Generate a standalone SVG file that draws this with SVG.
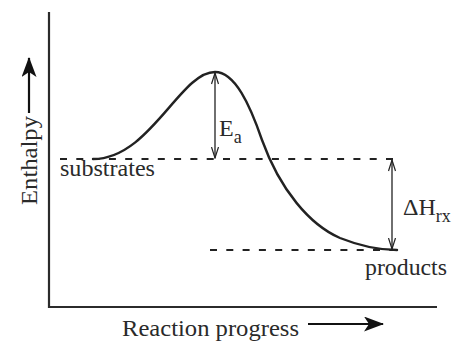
<svg xmlns="http://www.w3.org/2000/svg" width="454" height="341" viewBox="0 0 454 341">
  <defs>
    <style>
      .ax { stroke: #2b2b2b; stroke-width: 2.2; fill: none; }
      .dash { stroke: #222; stroke-width: 2.2; stroke-dasharray: 7 9.3; fill: none; }
      .curve { stroke: #222; stroke-width: 2.4; fill: none; stroke-linecap: round; }
      .dim { stroke: #222; stroke-width: 1.3; fill: none; marker-start: url(#tip); marker-end: url(#tip); }
      .t { font-family: 'Liberation Serif', 'DejaVu Serif', serif; font-size: 24px; fill: #2a2a2a; }
      .sub { font-size: 18px; }
      .big { stroke: #111; stroke-width: 2.2; fill: none; }
    </style>
    <marker id="tip" viewBox="0 0 12 8" refX="11.5" refY="4" markerWidth="12" markerHeight="8" markerUnits="userSpaceOnUse" orient="auto-start-reverse">
      <path d="M0.5,0.5 L11.5,4 L0.5,7.5" fill="none" stroke="#222" stroke-width="1.2"/>
    </marker>
    <marker id="head" viewBox="0 0 20 15" refX="19" refY="7.5" markerWidth="20" markerHeight="15" markerUnits="userSpaceOnUse" orient="auto">
      <path d="M0,0 L20,7.5 L0,15 L5,7.5 Z" fill="#111"/>
    </marker>
  </defs>

  <g id="axes">
    <path class="ax" d="M49,12 L49,307 L437,307"/>
  </g>

  <g id="connectors">
    <path class="dash" d="M60,159 L396,159"/>
    <path class="dash" d="M210,250 L400,250"/>
    <path class="curve" d="M93,159 C150,159 180,72 215,72 C235,72 250,105 262,140 C280,190 310,225 340,238 C360,246 380,250 397,250"/>
    <path class="dim" d="M215,73 L215,158"/>
    <path class="dim" d="M392,160 L392,249"/>
    <path class="big" d="M29,113 L29,58" marker-end="url(#head)"/>
    <path class="big" d="M308,324 L383,324" marker-end="url(#head)"/>
  </g>

  <g id="substrates">
    <text class="t" x="60" y="176" textLength="95" lengthAdjust="spacingAndGlyphs">substrates</text>
  </g>
  <g id="products">
    <text class="t" x="365" y="275" textLength="82" lengthAdjust="spacingAndGlyphs">products</text>
  </g>
  <g id="Ea">
    <text class="t" x="219" y="136">E<tspan class="sub" dy="7">a</tspan></text>
  </g>
  <g id="dH">
    <text class="t" x="403" y="215">ΔH<tspan class="sub" dy="7">rx</tspan></text>
  </g>
  <g id="enthalpy">
    <text class="t" transform="translate(37,205) rotate(-90)" textLength="89" lengthAdjust="spacingAndGlyphs">Enthalpy</text>
  </g>
  <g id="xlabel">
    <text class="t" x="122" y="336" textLength="177" lengthAdjust="spacingAndGlyphs">Reaction progress</text>
  </g>
</svg>
